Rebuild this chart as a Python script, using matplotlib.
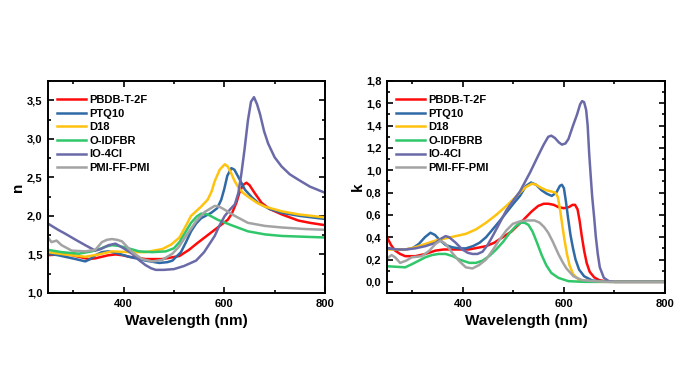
import matplotlib.pyplot as plt
from matplotlib.ticker import MultipleLocator, FuncFormatter

plt.rcParams['font.family'] = ['Liberation Sans', 'DejaVu Sans']
plt.rcParams['font.weight'] = 'bold'

# ---- n (refractive index) ----
n_wl_pbdb = [250, 270, 284, 298, 311, 331, 344, 357, 370, 384, 398, 411, 444, 477, 511, 530, 547, 565, 581, 595, 607,
             615, 624, 630, 637, 644, 650, 660, 674, 690, 714, 747, 770, 800]
n_pbdb = [1.49, 1.50, 1.50, 1.49, 1.47, 1.44, 1.45, 1.47, 1.49, 1.50, 1.49, 1.47, 1.44, 1.44, 1.48, 1.56, 1.65, 1.74, 1.82, 1.89, 1.95,
          2.03, 2.17, 2.30, 2.40, 2.43, 2.40, 2.30, 2.17, 2.09, 2.02, 1.94, 1.91, 1.88]

n_wl_ptq = [250, 270, 284, 305, 324, 334, 344, 357, 370, 385, 411, 444, 471, 487, 497, 514, 524, 534, 544, 554, 574, 586,
            594, 600, 606, 614, 620, 630, 641, 655, 667, 690, 714, 750, 800]
n_ptq = [1.51, 1.49, 1.47, 1.44, 1.41, 1.44, 1.49, 1.53, 1.54, 1.52, 1.47, 1.42, 1.39, 1.40, 1.42, 1.53, 1.66, 1.80, 1.90, 1.97, 2.04, 2.10,
         2.21, 2.35, 2.52, 2.62, 2.60, 2.48, 2.34, 2.24, 2.17, 2.09, 2.04, 2.00, 1.96]

n_wl_d18 = [250, 284, 324, 351, 377, 411, 444, 477, 495, 511, 522, 534, 554, 567, 575, 581, 591, 601, 607, 614, 620, 627,
            637, 647, 665, 681, 714, 747, 800]
n_d18 = [1.53, 1.50, 1.47, 1.50, 1.54, 1.53, 1.53, 1.57, 1.63, 1.72, 1.85, 2.00, 2.12, 2.21, 2.32, 2.45, 2.60, 2.67, 2.64, 2.55, 2.46, 2.38,
         2.30, 2.25, 2.17, 2.12, 2.06, 2.02, 1.98]

n_wl_oidfbr = [250, 277, 311, 337, 352, 364, 377, 391, 404, 431, 457, 484, 500, 511, 522, 534, 545, 554, 567, 587, 614, 647,
               681, 714, 800]
n_oidfbr = [1.56, 1.53, 1.51, 1.54, 1.57, 1.60, 1.62, 1.61, 1.59, 1.54, 1.53, 1.54, 1.58, 1.66, 1.78, 1.91, 1.99, 2.03, 2.02, 1.95, 1.88, 1.80,
            1.76, 1.74, 1.72]

n_wl_io = [250, 270, 284, 305, 324, 344, 355, 370, 384, 400, 417, 430, 444, 455, 464, 480, 500, 520, 544, 560, 570, 581,
           590, 601, 611, 621, 628, 634, 640, 647, 653, 659, 665, 671, 679, 687, 700, 714, 730, 747, 770, 800]
n_io = [1.90, 1.82, 1.77, 1.69, 1.62, 1.55, 1.57, 1.62, 1.64, 1.58, 1.51, 1.43, 1.36, 1.32, 1.30, 1.30, 1.31, 1.35, 1.42, 1.53, 1.63, 1.74,
        1.87, 2.00, 2.08, 2.15, 2.30, 2.55, 2.85, 3.24, 3.48, 3.54, 3.45, 3.32, 3.10, 2.94, 2.76, 2.64, 2.54, 2.47, 2.38, 2.30]

n_wl_pmi = [250, 257, 267, 277, 297, 324, 344, 357, 367, 377, 387, 397, 417, 437, 457, 477, 497, 510, 524, 544, 561, 581,
            590, 601, 621, 647, 681, 714, 760, 800]
n_pmi = [1.72, 1.66, 1.68, 1.62, 1.55, 1.54, 1.56, 1.66, 1.69, 1.70, 1.69, 1.67, 1.53, 1.44, 1.41, 1.43, 1.51, 1.60, 1.74, 1.93, 2.05, 2.13,
         2.12, 2.08, 2.00, 1.91, 1.87, 1.85, 1.83, 1.82]

# ---- k (extinction coefficient) ----
k_wl_pbdb = [250, 258, 266, 276, 286, 306, 326, 346, 362, 379, 412, 446, 462, 479, 496, 512, 523, 536, 549, 560, 569, 580,
             589, 600, 610, 617, 622, 627, 631, 635, 640, 645, 651, 660, 670, 683, 700, 800]
k_pbdb = [0.40, 0.33, 0.28, 0.25, 0.23, 0.23, 0.25, 0.28, 0.29, 0.29, 0.29, 0.32, 0.35, 0.40, 0.45, 0.52, 0.57, 0.63, 0.68, 0.70, 0.70, 0.69,
          0.67, 0.66, 0.67, 0.69, 0.69, 0.65, 0.55, 0.42, 0.28, 0.17, 0.09, 0.04, 0.015, 0.004, 0.0, 0.0]

k_wl_ptq = [250, 270, 286, 300, 313, 325, 336, 345, 353, 366, 379, 393, 406, 420, 433, 446, 459, 472, 486, 500, 513, 525,
            535, 545, 556, 566, 576, 585, 592, 596, 600, 604, 608, 613, 618, 623, 630, 640, 656, 690, 800]
k_ptq = [0.30, 0.29, 0.29, 0.30, 0.34, 0.40, 0.44, 0.42, 0.38, 0.33, 0.31, 0.30, 0.30, 0.32, 0.35, 0.40, 0.47, 0.54, 0.62, 0.70, 0.77, 0.86,
         0.89, 0.87, 0.82, 0.79, 0.77, 0.80, 0.86, 0.87, 0.84, 0.72, 0.58, 0.42, 0.30, 0.20, 0.11, 0.05, 0.012, 0.0, 0.0]

k_wl_d18 = [250, 286, 306, 326, 346, 366, 386, 406, 426, 446, 466, 486, 500, 513, 525, 537, 545, 556, 566, 575, 583, 588,
            593, 597, 601, 606, 611, 618, 629, 660, 800]
k_d18 = [0.29, 0.29, 0.31, 0.34, 0.37, 0.39, 0.41, 0.43, 0.47, 0.53, 0.60, 0.68, 0.74, 0.80, 0.85, 0.88, 0.87, 0.84, 0.82, 0.81, 0.80, 0.76,
         0.63, 0.50, 0.38, 0.25, 0.15, 0.07, 0.02, 0.0, 0.0]

k_wl_oidfbrb = [250, 286, 300, 313, 326, 339, 352, 366, 380, 393, 413, 426, 439, 452, 466, 480, 493, 505, 515, 522, 530, 538,
                546, 556, 565, 575, 589, 609, 640, 800]
k_oidfbrb = [0.14, 0.13, 0.16, 0.19, 0.22, 0.24, 0.25, 0.25, 0.23, 0.20, 0.17, 0.17, 0.19, 0.23, 0.29, 0.36, 0.44, 0.50, 0.53, 0.53, 0.51, 0.45,
             0.36, 0.24, 0.15, 0.08, 0.036, 0.006, 0.0, 0.0]

k_wl_io = [250, 270, 286, 306, 326, 346, 358, 366, 373, 386, 399, 410, 419, 429, 439, 449, 459, 472, 486, 500, 513, 533,
           549, 560, 569, 575, 582, 590, 596, 603, 609, 618, 626, 632, 636, 640, 644, 647, 650, 653, 656, 660, 663, 667,
           671, 679, 689, 700, 800]
k_io = [0.30, 0.29, 0.29, 0.30, 0.32, 0.35, 0.39, 0.41, 0.40, 0.35, 0.29, 0.26, 0.25, 0.25, 0.27, 0.33, 0.41, 0.52, 0.64, 0.73, 0.81, 0.98,
        1.13, 1.23, 1.30, 1.31, 1.29, 1.25, 1.23, 1.24, 1.28, 1.40, 1.50, 1.59, 1.62, 1.61, 1.54, 1.40, 1.15, 0.95, 0.76, 0.57, 0.41, 0.25,
        0.13, 0.036, 0.006, 0.0, 0.0]

k_wl_pmi = [250, 259, 266, 276, 288, 299, 319, 334, 346, 356, 366, 379, 392, 406, 419, 432, 446, 460, 473, 486, 499, 515,
            529, 542, 552, 561, 569, 578, 589, 597, 605, 619, 636, 680, 800]
k_pmi = [0.21, 0.24, 0.22, 0.17, 0.19, 0.22, 0.23, 0.28, 0.34, 0.37, 0.34, 0.26, 0.19, 0.13, 0.12, 0.15, 0.20, 0.29, 0.38, 0.46, 0.52, 0.545,
         0.55, 0.55, 0.53, 0.49, 0.44, 0.36, 0.25, 0.18, 0.12, 0.05, 0.015, 0.0, 0.0]

colors = ['#ff0a0a', '#2f6aa6', '#ffc20e', '#2fc76a', '#6a6aa8', '#a3a3a3']

n_series = [(n_wl_pbdb, n_pbdb, 'PBDB-T-2F'), (n_wl_ptq, n_ptq, 'PTQ10'), (n_wl_d18, n_d18, 'D18'),
            (n_wl_oidfbr, n_oidfbr, 'O-IDFBR'), (n_wl_io, n_io, 'IO-4Cl'), (n_wl_pmi, n_pmi, 'PMI-FF-PMI')]
k_series = [(k_wl_pbdb, k_pbdb, 'PBDB-T-2F'), (k_wl_ptq, k_ptq, 'PTQ10'), (k_wl_d18, k_d18, 'D18'),
            (k_wl_oidfbrb, k_oidfbrb, 'O-IDFBRB'), (k_wl_io, k_io, 'IO-4Cl'), (k_wl_pmi, k_pmi, 'PMI-FF-PMI')]

comma = FuncFormatter(lambda v, p: ('%.1f' % v).replace('.', ',') if abs(v) > 1e-9 else '0,0')
comma_int = FuncFormatter(lambda v, p: '%d' % v)

fig = plt.figure(figsize=(6.89, 3.88), dpi=100)
ax1 = fig.add_axes([48 / 689, 1 - 293 / 388, 277 / 689, 212 / 388])
ax2 = fig.add_axes([387 / 689, 1 - 293 / 388, 278 / 689, 212 / 388])

for ax, series, ylab in [(ax1, n_series, 'n'), (ax2, k_series, 'k')]:
    for (wl, vals, lab), c in zip(series, colors):
        ax.plot(wl, vals, color=c, lw=1.8, label=lab, solid_joinstyle='round')
    ax.set_xlim(250, 800)
    ax.xaxis.set_major_locator(MultipleLocator(200))
    ax.xaxis.set_minor_locator(MultipleLocator(100))
    ax.xaxis.set_major_formatter(comma_int)
    ax.yaxis.set_major_formatter(comma)
    ax.tick_params(which='both', direction='in', top=True, right=True, width=1.2, labelsize=8, pad=4)
    ax.tick_params(which='major', length=4)
    ax.tick_params(which='minor', length=2.5)
    for s in ax.spines.values():
        s.set_linewidth(1.4)
    ax.set_xlabel('Wavelength (nm)', fontsize=11, fontweight='bold', labelpad=4)
    ax.set_ylabel(ylab, fontsize=11, fontweight='bold', labelpad=1)
    ax.legend(loc='upper left', bbox_to_anchor=(0.0, 0.975), frameon=False, fontsize=8,
              handlelength=2.6, handletextpad=0.3, labelspacing=0.32, borderaxespad=0.4)

ax1.set_ylim(1.0, 3.75)
ax1.yaxis.set_major_locator(MultipleLocator(0.5))
ax1.yaxis.set_minor_locator(MultipleLocator(0.25))

ax2.set_ylim(-0.1, 1.8)
ax2.yaxis.set_major_locator(MultipleLocator(0.2))
ax2.yaxis.set_minor_locator(MultipleLocator(0.1))

fig.savefig('out.png', dpi=100)
